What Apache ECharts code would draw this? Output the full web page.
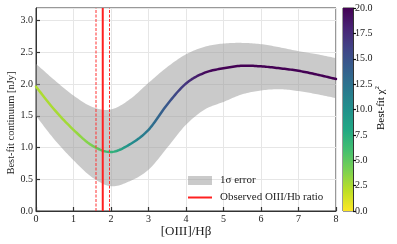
<!DOCTYPE html>
<html>
<head>
<meta charset="utf-8">
<script src="https://cdn.jsdelivr.net/npm/echarts@6/dist/echarts.min.js"></script>
<style>html,body{margin:0;padding:0;background:#fff;}#c{width:397px;height:244px;}</style>
</head>
<body>
<div id="c"></div>
<script>
// ---- data ----
const ratioX   = [0, 0.5, 1, 1.5, 2, 2.5, 3, 3.5, 4, 4.5, 5, 5.5, 6, 6.5, 7, 7.5, 8];
const bestFit  = [1.96, 1.59, 1.28, 1.03, 0.93, 1.05, 1.28, 1.68, 2.01, 2.18, 2.25, 2.29, 2.28, 2.25, 2.21, 2.15, 2.08];
const upper1s  = [2.32, 2.06, 1.82, 1.64, 1.60, 1.76, 2.02, 2.27, 2.47, 2.59, 2.64, 2.65, 2.63, 2.58, 2.52, 2.47, 2.41];
const lower1s  = [1.50, 1.12, 0.80, 0.53, 0.39, 0.47, 0.65, 1.00, 1.36, 1.60, 1.72, 1.84, 1.90, 1.92, 1.89, 1.84, 1.78];
const chi2     = [2.4, 2.6, 2.9, 3.9, 6.8, 10.0, 12.2, 14.6, 17.0, 19.5, 20, 20, 20, 20, 20, 20, 20];
const obsRatio = 1.78;
const obsLow   = 1.60;
const obsHigh  = 1.96;
const xTicks   = [0, 1, 2, 3, 4, 5, 6, 7, 8];
const yTicks   = [0.0, 0.5, 1.0, 1.5, 2.0, 2.5, 3.0];
const cbTicks  = [0.0, 2.5, 5.0, 7.5, 10.0, 12.5, 15.0, 17.5, 20.0];
const chi2Max  = 20;

// ---- helpers ----
const viridis = ['#440154','#482475','#414487','#355f8d','#2a788e','#21918c','#22a884','#44bf70','#7ad151','#bddf26','#fde725'];
function hex2rgb(h){return [parseInt(h.slice(1,3),16),parseInt(h.slice(3,5),16),parseInt(h.slice(5,7),16)];}
function viridisAt(t){
  t = Math.max(0, Math.min(1, t));
  const p = t * (viridis.length - 1);
  const i = Math.min(Math.floor(p), viridis.length - 2);
  const f = p - i;
  const a = hex2rgb(viridis[i]), b = hex2rgb(viridis[i+1]);
  const c = a.map((v,k)=>Math.round(v + (b[k]-v)*f));
  return 'rgb(' + c.join(',') + ')';
}
function chiColor(v){ return viridisAt(1 - v / chi2Max); }

// smooth pixel path through pixel points (Catmull-Rom, rendering only)
function smoothPixels(pts, n){
  const out = [];
  for (let i = 0; i < pts.length - 1; i++){
    const p0 = pts[Math.max(i-1,0)], p1 = pts[i], p2 = pts[i+1], p3 = pts[Math.min(i+2, pts.length-1)];
    for (let s = 0; s < n; s++){
      const t = s / n, t2 = t*t, t3 = t2*t;
      const q = [0,1].map(k => 0.5 * ((2*p1[k]) + (-p0[k]+p2[k])*t + (2*p0[k]-5*p1[k]+4*p2[k]-p3[k])*t2 + (-p0[k]+3*p1[k]-3*p2[k]+p3[k])*t3));
      out.push(q);
    }
  }
  out.push(pts[pts.length-1]);
  return out;
}

const xMin = ratioX[0], xMax = ratioX[ratioX.length-1];
const lineStops = ratioX.map((x,i)=>({offset:(x - xMin)/(xMax - xMin), color: chiColor(chi2[i])}));
const cbStops = [];
for (let i = 0; i <= 20; i++) cbStops.push({offset: i/20, color: chiColor(chi2Max * (1 - i/20))});

const FONT = "'Liberation Serif', 'Times New Roman', serif";
const bandColor = 'rgba(150,150,150,0.5)';
const axisCol = '#333';

const chart = echarts.init(document.getElementById('c'), null, {renderer:'canvas'});
chart.setOption({
  animation: false,
  backgroundColor: '#fff',
  grid: [
    {left: 36, top: 8, width: 300, height: 203, show: true, borderColor: axisCol, borderWidth: 1},
    {left: 343, top: 8, width: 10, height: 203, show: true, borderColor: axisCol, borderWidth: 1}
  ],
  xAxis: [
    {gridIndex: 0, type: 'value', min: xTicks[0], max: xTicks[xTicks.length-1], interval: 1,
     axisLine: {show: true, lineStyle: {color: axisCol, width: 1}},
     axisTick: {show: true, inside: true, length: 4, lineStyle: {color: axisCol, width: 1.2}},
     axisLabel: {fontFamily: FONT, fontSize: 10, color: '#222', margin: 3, formatter: v => String(v)},
     splitLine: {show: true, lineStyle: {color: '#e6e6e6', width: 1}}},
    {gridIndex: 1, type: 'category', data: ['cb'], show: false}
  ],
  yAxis: [
    {gridIndex: 0, type: 'value', min: 0, max: 3.2, interval: 0.5,
     axisLine: {show: true, lineStyle: {color: axisCol, width: 1}},
     axisTick: {show: true, inside: true, length: 4, lineStyle: {color: axisCol, width: 1.2}},
     axisLabel: {fontFamily: FONT, fontSize: 10, color: '#222', margin: 3, showMaxLabel: false,
                 formatter: v => yTicks.some(t => Math.abs(t - v) < 1e-6) ? v.toFixed(1) : ''},
     splitLine: {show: true, lineStyle: {color: '#e6e6e6', width: 1}}},
    {gridIndex: 1, type: 'value', position: 'right', min: cbTicks[0], max: cbTicks[cbTicks.length-1], interval: 2.5,
     axisLine: {show: true, lineStyle: {color: axisCol, width: 1}},
     axisTick: {show: true, inside: false, length: 3, lineStyle: {color: '#111', width: 1.2}},
     axisLabel: {fontFamily: FONT, fontSize: 10, color: '#222', margin: 2, formatter: v => v.toFixed(1)},
     splitLine: {show: false}}
  ],
  legend: {
    orient: 'vertical', left: 183, top: 170, itemWidth: 24, itemHeight: 9, itemGap: 6,
    textStyle: {fontFamily: FONT, fontSize: 11, color: '#222', padding: [0, 0, 0, 3]},
    data: [
      {name: '1σ error', icon: 'rect', itemStyle: {color: bandColor}},
      {name: 'Observed OIII/Hb ratio', icon: 'path://M0,0L24,0L24,2L0,2Z', itemStyle: {color: '#ff2020'}}
    ]
  },
  graphic: [
    {type: 'text', x: 11, y: 123, rotation: Math.PI/2,
     style: {text: 'Best-fit continuum [nJy]', font: '10.5px ' + FONT, fill: '#222', textAlign: 'center', textVerticalAlign: 'middle'}},
    {type: 'text', x: 186, y: 232,
     style: {text: '[OIII]/Hβ', font: '13px ' + FONT, fill: '#222', textAlign: 'center', textVerticalAlign: 'middle'}},
    {type: 'text', x: 381, y: 108, rotation: Math.PI/2,
     style: {text: '{a|Best-fit χ}{b|2}', textAlign: 'center', textVerticalAlign: 'middle',
             rich: {a: {fontFamily: FONT, fontSize: 11, color: '#222'},
                    b: {fontFamily: FONT, fontSize: 7, color: '#222', verticalAlign: 'top', padding: [0,0,8,0]}}}}
  ],
  series: [
    {type: 'custom', name: '1σ error', xAxisIndex: 0, yAxisIndex: 0, silent: true, z: 1,
     itemStyle: {color: bandColor},
     data: [0],
     renderItem: function(params, api){
       const up = smoothPixels(ratioX.map((x,i)=>api.coord([x, upper1s[i]])), 12);
       const lo = smoothPixels(ratioX.map((x,i)=>api.coord([x, lower1s[i]])), 12);
       const pts = up.concat(lo.reverse());
       return {type: 'polygon', shape: {points: pts}, style: {fill: bandColor}};
     }},
    {type: 'custom', name: 'best', xAxisIndex: 0, yAxisIndex: 0, silent: true, z: 3,
     data: [0],
     renderItem: function(params, api){
       const pts = smoothPixels(ratioX.map((x,i)=>api.coord([x, bestFit[i]])), 12);
       return {type: 'polyline', shape: {points: pts},
               style: {fill: null, lineWidth: 2.5, lineCap: 'round', lineJoin: 'round',
                       stroke: new echarts.graphic.LinearGradient(0, 0, 1, 0, lineStops)}};
     }},
    {type: 'line', name: 'Observed OIII/Hb ratio', xAxisIndex: 0, yAxisIndex: 0, symbol: 'none', silent: true,
     lineStyle: {width: 2, color: '#ff2020'}, itemStyle: {color: '#ff2020'},
     data: [[obsRatio, 0], [obsRatio, 3.2]], z: 5},
    {type: 'line', name: 'obsLow', xAxisIndex: 0, yAxisIndex: 0, symbol: 'none', silent: true,
     lineStyle: {width: 1, type: [3, 1.5], color: '#ff3030'},
     data: [[obsLow, 0], [obsLow, 3.2]], z: 4},
    {type: 'line', name: 'obsHigh', xAxisIndex: 0, yAxisIndex: 0, symbol: 'none', silent: true,
     lineStyle: {width: 1, type: [3, 1.5], color: '#ff3030'},
     data: [[obsHigh, 0], [obsHigh, 3.2]], z: 4},
    {type: 'bar', xAxisIndex: 1, yAxisIndex: 1, barWidth: '100%', silent: true,
     itemStyle: {color: {type: 'linear', x: 0, y: 0, x2: 0, y2: 1, colorStops: cbStops}},
     data: [chi2Max]}
  ]
});
</script>
</body>
</html>
